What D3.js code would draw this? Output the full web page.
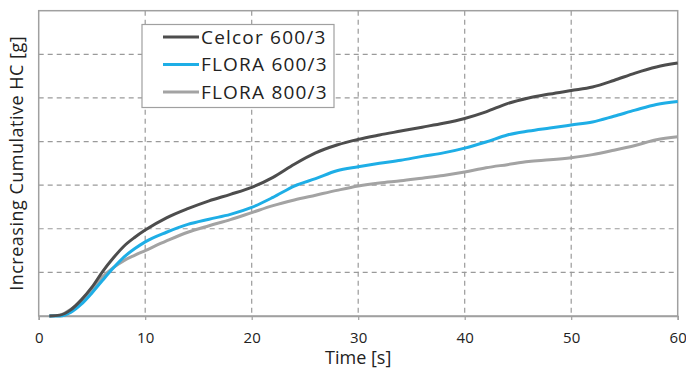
<!DOCTYPE html>
<html>
<head>
<meta charset="utf-8">
<script src="https://cdn.jsdelivr.net/npm/d3@7"></script>
<style>
  body { margin: 0; background: #fff; }
  svg text { font-family: "Open Sans", "Noto Sans", sans-serif; fill: #222; }
</style>
</head>
<body>
<div id="wrapper"></div>
<script>
// time [s]
const times = [1, 2, 3, 4, 5, 6, 7, 8, 9, 10, 12, 14, 16, 18, 20, 22, 24, 26, 28, 30,
    32, 34, 36, 38, 40, 42, 44, 46, 48, 50, 52, 54, 56, 58, 60]

const celcor600 = [0, 0.02, 0.14, 0.37, 0.66, 1.02, 1.33, 1.6, 1.8, 1.97, 2.25, 2.46, 2.64, 2.79, 2.95, 3.18, 3.48, 3.74, 3.92, 4.05,
    4.15, 4.24, 4.33, 4.42, 4.53, 4.68, 4.87, 5.0, 5.09, 5.17, 5.25, 5.4, 5.57, 5.71, 5.8]
const flora600 = [0, 0, 0.08, 0.27, 0.53, 0.82, 1.1, 1.35, 1.54, 1.7, 1.92, 2.1, 2.22, 2.33, 2.49, 2.72, 2.98, 3.15, 3.33, 3.42,
    3.5, 3.57, 3.66, 3.74, 3.85, 3.99, 4.15, 4.24, 4.31, 4.38, 4.45, 4.58, 4.72, 4.85, 4.92]
const flora800 = [0, 0.02, 0.15, 0.35, 0.61, 0.9, 1.11, 1.27, 1.39, 1.5, 1.72, 1.92, 2.07, 2.21, 2.37, 2.53, 2.66, 2.77, 2.88, 2.98,
    3.05, 3.1, 3.16, 3.22, 3.3, 3.4, 3.47, 3.54, 3.58, 3.63, 3.7, 3.8, 3.91, 4.04, 4.11]

const seriesNames = ['Celcor 600/3', 'FLORA 600/3', 'FLORA 800/3']
const seriesColors = ['#4d4d4d', '#1eaee6', '#a3a3a3']
const xTicks = [0, 10, 20, 30, 40, 50, 60]
const yGrid = [1, 2, 3, 4, 5, 6]

const width = 686, height = 371
const margin = { top: 10.7, right: 8.3, bottom: 55, left: 38.7 }
const innerW = width - margin.left - margin.right
const innerH = height - margin.top - margin.bottom

const svg = d3.select('#wrapper').append('svg')
    .attr('width', width).attr('height', height)

const bounds = svg.append('g')
    .attr('transform', `translate(${margin.left},${margin.top})`)

const x = d3.scaleLinear().domain([0, 60]).range([0, innerW])
const y = d3.scaleLinear().domain([0, 7]).range([innerH, 0])

// grid
bounds.selectAll('.hgrid').data(yGrid).enter().append('line')
    .attr('x1', 0).attr('x2', innerW)
    .attr('y1', d => y(d)).attr('y2', d => y(d))
    .attr('stroke', '#9a9a9a').attr('stroke-width', 1.2)
    .attr('stroke-dasharray', '5,4')

bounds.selectAll('.vgrid').data(xTicks.slice(1, -1)).enter().append('line')
    .attr('x1', d => x(d)).attr('x2', d => x(d))
    .attr('y1', 0).attr('y2', innerH)
    .attr('stroke', '#9a9a9a').attr('stroke-width', 1.2)
    .attr('stroke-dasharray', '5,4')

// frame
bounds.append('rect')
    .attr('width', innerW).attr('height', innerH)
    .attr('fill', 'none').attr('stroke', '#a0a0a0').attr('stroke-width', 1.5)

// x axis
const xAxis = bounds.append('g')
    .attr('transform', `translate(0,${innerH})`)
    .call(d3.axisBottom(x).tickValues(xTicks).tickSize(4).tickPadding(12))
xAxis.select('.domain').attr('stroke', '#a0a0a0').attr('stroke-width', 1.5)
xAxis.selectAll('.tick line').attr('stroke', '#a0a0a0').attr('stroke-width', 1.2)
xAxis.selectAll('.tick text')
    .style('font-size', '15px').style('font-family', '"Open Sans", sans-serif').attr('fill', '#222')

// lines
const allSeries = [celcor600, flora600, flora800]
const line = d3.line()
    .x((d, i) => x(times[i]))
    .y(d => y(d))
    .curve(d3.curveMonotoneX)

bounds.selectAll('.series').data(allSeries.slice().reverse()).enter().append('path')
    .attr('class', 'series')
    .attr('d', d => line(d))
    .attr('fill', 'none')
    .attr('stroke', d => seriesColors[allSeries.indexOf(d)])
    .attr('stroke-width', 3)
    .attr('stroke-linejoin', 'round')

// titles
svg.append('text')
    .attr('x', margin.left + innerW / 2).attr('y', 364)
    .attr('text-anchor', 'middle')
    .style('font-size', '18px')
    .text('Time [s]')

svg.append('text')
    .attr('transform', `translate(23,${margin.top + innerH / 2}) rotate(-90)`)
    .attr('text-anchor', 'middle')
    .style('font-size', '18px')
    .style('letter-spacing', '0.5px')
    .text('Increasing Cumulative HC [g]')

// legend
const legend = svg.append('g').attr('transform', 'translate(142,24.5)')
legend.append('rect')
    .attr('width', 192).attr('height', 83)
    .attr('fill', '#fff').attr('stroke', '#a0a0a0').attr('stroke-width', 1.2)

const items = legend.selectAll('.item').data(seriesNames).enter().append('g')
    .attr('transform', (d, i) => `translate(0,${12.5 + i * 27.5})`)
items.append('line')
    .attr('x1', 21).attr('x2', 57)
    .attr('stroke', (d, i) => seriesColors[i]).attr('stroke-width', 3)
items.append('text')
    .attr('x', 59).attr('dy', '0.36em')
    .style('font-size', '19px')
    .style('letter-spacing', '1.2px')
    .text(d => d)
</script>
</body>
</html>
